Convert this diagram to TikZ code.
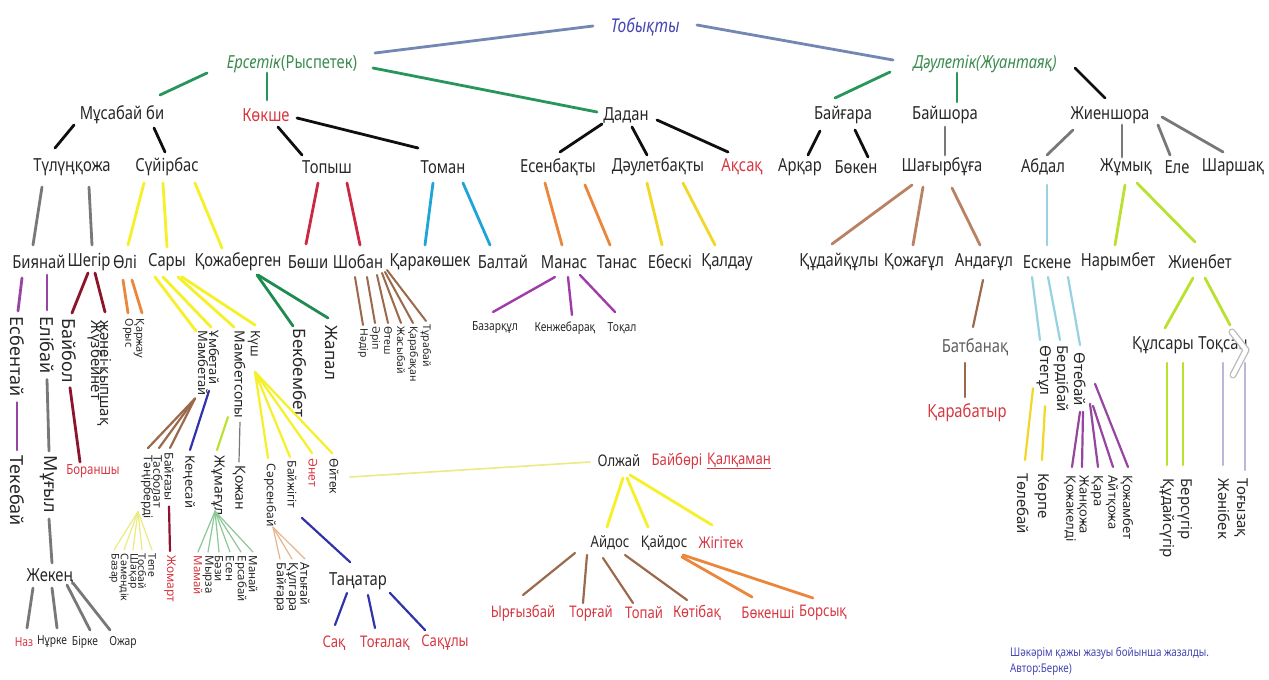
\documentclass[tikz,border=0pt]{standalone}
\usepackage{fontspec}
\setmainfont{Noto Sans}
\newfontfamily\cf[FakeStretch=0.82]{Noto Sans}
\newfontfamily\nf{Noto Sans}
\usetikzlibrary{calc}
\definecolor{txt}{RGB}{40,40,40}
\definecolor{txtred}{RGB}{215,55,65}
\definecolor{txtgrn}{RGB}{60,140,80}
\definecolor{txtblue}{RGB}{70,70,180}
\definecolor{txtgray}{RGB}{95,95,95}
\definecolor{cBG}{RGB}{115,135,180}
\definecolor{cG}{RGB}{40,150,90}
\definecolor{cK}{RGB}{15,15,15}
\definecolor{cGr}{RGB}{120,120,120}
\definecolor{cY}{RGB}{245,240,40}
\definecolor{cR}{RGB}{205,40,65}
\definecolor{cC}{RGB}{30,165,215}
\definecolor{cO}{RGB}{235,135,60}
\definecolor{cY2}{RGB}{240,215,40}
\definecolor{cT}{RGB}{185,130,100}
\definecolor{cLB}{RGB}{150,210,225}
\definecolor{cYG}{RGB}{185,225,45}
\definecolor{cP}{RGB}{150,70,160}
\definecolor{cDR}{RGB}{140,20,45}
\definecolor{cKG}{RGB}{30,140,80}
\definecolor{cBr}{RGB}{155,105,75}
\definecolor{cN}{RGB}{50,50,170}
\definecolor{cLG}{RGB}{140,200,150}
\definecolor{cLY}{RGB}{235,235,130}
\definecolor{cPe}{RGB}{230,180,140}
\definecolor{cLav}{RGB}{185,185,215}
\definecolor{cMag}{RGB}{160,60,170}
\begin{document}
\begin{tikzpicture}[x=1pt,y=-1pt,
  h/.style={font=\cf\fontsize{18}{20}\selectfont, inner sep=1pt, text=txt},
  hm/.style={font=\cf\fontsize{16}{18}\selectfont, inner sep=1pt, text=txt},
  hs/.style={font=\cf\fontsize{12.5}{14}\selectfont, inner sep=1pt, text=txt},
  v/.style={rotate=-90, anchor=west, inner sep=0.5pt, text=txt},
  vf/.style={v, font=\nf\fontsize{#1}{#1}\selectfont},
  vbold/.style={v, font=\nf\bfseries\fontsize{15}{17}\selectfont},
  tred/.style={text=txtred},
  ln/.style={line width=2.8pt, line cap=round},
  tn/.style={line width=1.2pt, line cap=round}]
\useasboundingbox (0,0) rectangle (1269,680);
\fill[white] (0,0) rectangle (1269,680);

% ---------- level 0
\node[h, text=txtblue, font=\cf\itshape\fontsize{19}{21}\selectfont] (tob) at (645,27) {Тобықты};
\node[h, text=txtgrn] (ers) at (292,64) {\textit{Ерсетік}(Рыспетек)};
\node[h, text=txtgrn] (dau) at (985,64) {\textit{Дәулетік(Жуантаяқ)}};

% ---------- level 1
\node[h] (musa) at (122,115) {Мұсабай би};
\node[h,tred] (kok) at (266,115) {Көкше};
\node[h] (dad) at (626,115) {Дадан};
\node[h] (baig) at (843,115) {Байғара};
\node[h] (baish) at (945,115) {Байшора};
\node[h] (zhiensh) at (1110,115) {Жиеншора};

% ---------- level 2
\node[h] (tul) at (72,167) {Түлүңқожа};
\node[h] (suy) at (167,167) {Сүйірбас};
\node[h] (top) at (327,167) {Топыш};
\node[h] (tom) at (443,167) {Томан};
\node[h] (esen) at (558,167) {Есенбақты};
\node[h] (daub) at (658,167) {Дәулетбақты};
\node[h,tred] (aks) at (742,167) {Ақсақ};
\node[h] (ark) at (800,167) {Арқар};
\node[h] (bok) at (856,167) {Бөкен};
\node[h] (shag) at (942,167) {Шағырбұға};
\node[h] (abd) at (1043,167) {Абдал};
\node[h] (zhum) at (1126,167) {Жұмық};
\node[h] (ele) at (1177,167) {Еле};
\node[h] (shar) at (1233,167) {Шаршақ};

% ---------- level 3
\node[h] (biy) at (39,262) {Биянай};
\node[h] (sheg) at (89,262) {Шегір};
\node[h] (oli) at (125,262) {Өлі};
\node[h] (sary) at (167,262) {Сары};
\node[h] (kozhab) at (238,262) {Қожаберген};
\node[h] (boshi) at (308,262) {Бөши};
\node[h] (shob) at (358,262) {Шобан};
\node[h] (karak) at (430,262) {Қаракөшек};
\node[h] (balt) at (503,262) {Балтай};
\node[h] (manas) at (564,262) {Манас};
\node[h] (tanas) at (617,262) {Танас};
\node[h] (ebes) at (670,262) {Ебескі};
\node[h] (kald) at (727,262) {Қалдау};
\node[h] (kudai) at (839,262) {Құдайқұлы};
\node[h] (kozhag) at (914,262) {Қожағұл};
\node[h] (andag) at (984,262) {Андағұл};
\node[h] (esk) at (1047,262) {Ескене};
\node[h] (nar) at (1118,262) {Нарымбет};
\node[h] (zhienb) at (1200,262) {Жиенбет};

% ---------- left subtree
\node[vf=18] (esb) at (17,316) {Есбентай};
\node[vf=18] (tek) at (17,455) {Текебай};
\node[vf=18] (eli) at (47,316) {Елібай};
\node[vf=18] (mug) at (49,455) {Мұғыл};
\node[h] (zhek) at (50,577) {Жекең};
\node[hs,tred] (naz) at (24,642) {Наз};
\node[hs] (nurke) at (52,642) {Нұрке};
\node[hs] (birke) at (85,642) {Бірке};
\node[hs] (ozhar) at (123,642) {Ожар};
\node[vf=18] (baib) at (69,318) {Байбол};
\node[hs,tred,font=\cf\fontsize{14}{16}\selectfont] (boransh) at (93,471) {Бораншы};
\node[vf=15] (zhane) at (105,320) {жәнеі-қыпшақ};
\node[vf=15] (zhuz) at (95,320) {Жүзбейнет};
\node[vf=11] (karzh) at (139,318) {Қаржау};
\node[vf=11] (orys) at (128,318) {Орыс};

\node[vf=13] (mamb) at (203,330) {Мамбетай};
\node[vf=13] (umb) at (214,330) {Ұмбетай};
\node[vf=14] (mambs) at (240,330) {Мамбетсопы};
\node[vf=13] (kush) at (254,330) {Күш};

\node[vf=12] (tang) at (147,455) {Тәңірберді};
\node[vf=12] (tasb) at (158,455) {Тасболат};
\node[vf=12] (baigaz) at (169,452) {Байғазы};
\node[vf=12,tred] (zhom) at (170,555) {Жомарт};
\node[vf=10.5] (tepe) at (152,553) {Тепе};
\node[vf=10.5] (tosb) at (142,553) {Тосбай};
\node[vf=10.5] (shak) at (133,553) {Шақар};
\node[vf=10.5] (samen) at (124,553) {Сәмендік};
\node[vf=10.5] (bazar) at (114,553) {Базар};

\node[vf=13] (ken) at (189,455) {Кеңесай};
\node[vf=14] (zhuma) at (218,455) {Жұмағұл};
\node[vf=14] (kozh) at (239,465) {Қожан};
\node[vf=11.5,tred] (mamai) at (198,555) {Мамай};
\node[vf=11.5] (myrza) at (208,555) {Мырза};
\node[vf=11.5] (bazi) at (219,555) {Бәзи};
\node[vf=11.5] (esenn) at (230,555) {Есен};
\node[vf=11.5] (ersab) at (241,555) {Ерсабай};
\node[vf=11.5] (manai) at (253,555) {Манай};

\node[vf=12] (sars) at (270,463) {Сәрсенбай};
\node[vf=12] (baizh) at (292,460) {Байжігіт};
\node[vf=12,tred] (anet) at (313,458) {Әнет};
\node[vf=12] (oitek) at (334,458) {Өйтек};
\node[vf=12.5] (baigara) at (280,562) {Байғара};
\node[vf=12.5] (kulgara) at (292,562) {Құлгара};
\node[vf=12.5] (atygai) at (305,562) {Атығай};

\node[h] (tanat) at (358,581) {Таңатар};
\node[hm,tred] (sak) at (334,643) {Сақ};
\node[hm,tred] (togal) at (385,643) {Тоғалақ};
\node[hm,tred] (sakuly) at (445,643) {Сақұлы};

\node[vf=17] (bekb) at (300,328) {Бекбембет};
\node[vf=17] (zhapal) at (331,325) {Жапал};

\node[vf=10.5] (nadir) at (363,328) {Нәдір};
\node[vf=10.5] (arip) at (375,326) {Әріп};
\node[vf=10.5] (otesh) at (388,326) {Өтеш};
\node[vf=10.5] (zhasyb) at (401,326) {Жасыбай};
\node[vf=10.5] (karab) at (413,326) {Қарабақан};
\node[vf=10.5] (turab) at (426,324) {Тұрабай};

\node[hs] (bazark) at (495,328) {Базарқұл};
\node[hs] (kenzhe) at (565,328) {Кенжебарақ};
\node[hs] (tokal) at (622,328) {Тоқал};

% ---------- Olzhai group
\node[hm] (olzh) at (619,461) {Олжай};
\node[hm,tred] (baibori) at (677,461) {Байбөрі};
\node[hm,tred] (kalk) at (739,461) {\underline{Қалқаман}};
\node[hm] (aidos) at (610,543) {Айдос};
\node[hm] (kaidos) at (664,543) {Қайдос};
\node[hm,tred] (zhigit) at (721,543) {Жігітек};
\node[hm,tred] (yrgyz) at (523,613) {Ырғызбай};
\node[hm,tred] (torgai) at (591,613) {Торғай};
\node[hm,tred] (topai) at (644,613) {Топай};
\node[hm,tred] (kotib) at (697,613) {Көтібақ};
\node[hm,tred] (bokensh) at (768,613) {Бөкенші};
\node[hm,tred] (borsyk) at (823,613) {Борсық};

% ---------- right subtree
\node[h, text=txtgray] (batb) at (975,347) {Батбанақ};
\node[h,tred] (karabat) at (967,413) {Қарабатыр};
\node[vbold] (oteg) at (1044,345) {Өтегұл};
\node[vbold] (berd) at (1061,345) {Бердібай};
\node[vbold] (oteb) at (1080,352) {Өтебай};
\node[vbold] (tolebai) at (1023,473) {Төлебай};
\node[vbold] (korpe) at (1042,473) {Көрпе};
\node[vf=13] (kozhak) at (1070,475) {Қожакелді};
\node[vf=13] (zhank) at (1083,475) {Жанқожа};
\node[vf=13] (kara) at (1097,475) {Қара};
\node[vf=13] (aitk) at (1112,475) {Айтқожа};
\node[vf=13] (kozham) at (1127,475) {Қожамбет};
\node[h] (kuls) at (1163,345) {Құлсары};
\node[h] (toks) at (1223,345) {Тоқсан};
\node[vf=15] (kudais) at (1167,478) {Құдайсүгір};
\node[vf=15] (bers) at (1185,478) {Берсүгір};
\node[vbold] (zhanib) at (1224,478) {Жәнібек};
\node[vbold] (togyz) at (1241,478) {Тоғызақ};

\node[anchor=west, inner sep=0pt, text=txtblue, font=\cf\fontsize{12}{14}\selectfont] (foot1) at (1010,653) {Шәкәрім қажы жазуы бойынша жазалды.};
\node[anchor=west, inner sep=0pt, text=txtblue, font=\cf\fontsize{12}{14}\selectfont] (foot2) at (1010,670) {Автор:Берке)};

% ---------- connectors level 0-1
\draw[ln,cBG] ($(tob)+(-52,-1)$) -- ($(ers)+(83,-11)$);
\draw[ln,cBG] ($(tob)+(52,-2)$) -- ($(dau)+(-92,-4)$);
\draw[ln,cG] ($(ers)+(-85,9)$) -- ($(musa)+(38,-20)$);
\draw[ln,cG] ($(ers)+(-25,9)$) -- ($(kok)+(1,-15)$);
\draw[ln,cG] ($(ers)+(81,4)$) -- ($(dad)+(-29,-3)$);
\draw[ln,cG] ($(dau)+(-95,8)$) -- ($(baig)+(-8,-17)$);
\draw[ln,cG] ($(dau)+(-28,9)$) -- ($(baish)+(12,-13)$);
\draw[ln,cK] ($(dau)+(90,4)$) -- ($(zhiensh)+(-5,-17)$);
% level 1-2
\draw[ln,cK] ($(musa)+(-48,10)$) -- ($(tul)+(-17,-19)$);
\draw[ln,cK] ($(musa)+(32,13)$) -- ($(suy)+(-2,-15)$);
\draw[ln,cK] ($(kok)+(12,12)$) -- ($(top)+(-25,-12)$);
\draw[ln,cK] ($(kok)+(31,3)$) -- ($(tom)+(-25,-19)$);
\draw[ln,cK] ($(dad)+(-24,9)$) -- ($(esen)+(2,-15)$);
\draw[ln,cK] ($(dad)+(6,12)$) -- ($(daub)+(-11,-12)$);
\draw[ln,cK] ($(dad)+(31,5)$) -- ($(aks)+(-14,-15)$);
\draw[ln,cK] ($(baig)+(-23,16)$) -- ($(ark)+(8,-12)$);
\draw[ln,cK] ($(baig)+(12,15)$) -- ($(bok)+(12,-10)$);
\draw[ln,cGr] ($(baish)+(0,12)$) -- ($(shag)+(3,-12)$);
\draw[ln,cGr] ($(zhiensh)+(-37,15)$) -- ($(abd)+(4,-12)$);
\draw[ln,cGr] ($(zhiensh)+(12,10)$) -- ($(zhum)+(-4,-10)$);
\draw[ln,cGr] ($(zhiensh)+(48,10)$) -- ($(ele)+(-7,-12)$);
\draw[ln,cGr] ($(zhiensh)+(52,2)$) -- ($(shar)+(-10,-15)$);
% level 2-3
\draw[ln,cGr] ($(tul)+(-30,20)$) -- ($(biy)+(-6,-17)$);
\draw[ln,cGr] ($(tul)+(17,20)$) -- ($(sheg)+(3,-17)$);
\draw[ln,cY] ($(suy)+(-23,16)$) -- ($(oli)+(3,-17)$);
\draw[ln,cY] ($(suy)+(-4,16)$) -- ($(sary)+(0,-15)$);
\draw[ln,cY] ($(suy)+(28,16)$) -- ($(kozhab)+(-16,-14)$);
\draw[ln,cR] ($(top)+(-9,16)$) -- ($(boshi)+(-2,-18)$);
\draw[ln,cR] ($(top)+(20,16)$) -- ($(shob)+(2,-17)$);
\draw[ln,cC] ($(tom)+(-10,16)$) -- ($(karak)+(-5,-17)$);
\draw[ln,cC] ($(tom)+(20,16)$) -- ($(balt)+(-13,-17)$);
\draw[ln,cO] ($(esen)+(-13,16)$) -- ($(manas)+(-2,-17)$);
\draw[ln,cO] ($(esen)+(27,18)$) -- ($(tanas)+(-7,-17)$);
\draw[ln,cY2] ($(daub)+(-11,16)$) -- ($(ebes)+(-8,-17)$);
\draw[ln,cY2] ($(daub)+(25,16)$) -- ($(kald)+(-12,-17)$);
\draw[ln,cT] ($(shag)+(-30,18)$) -- ($(kudai)+(-7,-18)$);
\draw[ln,cT] ($(shag)+(-19,20)$) -- ($(kozhag)+(-1,-17)$);
\draw[ln,cT] ($(shag)+(10,21)$) -- ($(andag)+(-4,-17)$);
\draw[ln,cLB] ($(abd)+(4,18)$) -- ($(esk)+(0,-17)$);
\draw[ln,cYG] ($(zhum)+(-1,18)$) -- ($(nar)+(-3,-17)$);
\draw[ln,cYG] ($(zhum)+(11,16)$) -- ($(zhienb)+(-5,-20)$);

% ---------- left subtree connectors
\draw[ln,cP] ($(biy)+(-17,16)$) -- ($(esb.west)+(1,-5)$);
\draw[ln,cP] ($(esb.east)+(0,5)$) -- ($(tek.west)+(0,-5)$);
\draw[ln,cP] ($(biy)+(8,13)$) -- ($(eli.west)+(0,-6)$);
\draw[ln,cGr] ($(eli.east)+(0,5)$) -- ($(mug.west)+(0,-4)$);
\draw[ln,cGr] ($(mug.east)+(0,5)$) -- ($(zhek)+(2,-14)$);
\draw[ln,cGr] ($(zhek)+(-17,11)$) -- ($(naz)+(3,-14)$);
\draw[ln,cGr] ($(zhek)+(2,11)$) -- ($(nurke)+(5,-14)$);
\draw[ln,cGr] ($(zhek)+(17,8)$) -- ($(birke)+(5,-12)$);
\draw[ln,cGr] ($(zhek)+(23,6)$) -- ($(ozhar)+(-13,-12)$);
\draw[ln,cDR] ($(sheg)+(-1,11)$) -- ($(baib.west)+(3,-5)$);
\draw[ln,cDR] ($(baib.east)+(1,4)$) -- ($(boransh)+(-13,-9)$);
\draw[ln,cDR] ($(sheg)+(6,11)$) -- ($(zhane.west)+(0,-8)$);
\draw[ln,cO] ($(oli)+(-2,18)$) -- ($(orys.west)+(0,-5)$);
\draw[ln,cO] ($(oli)+(7,18)$) -- ($(karzh.west)+(3,-5)$);

\draw[ln,cY] ($(sary)+(-12,15)$) -- ($(mamb.west)+(-7,1)$);
\draw[ln,cY] ($(sary)+(-4,15)$) -- ($(umb.west)+(-3,-3)$);
\draw[ln,cY] ($(sary)+(11,15)$) -- ($(mambs.west)+(-6,-3)$);
\draw[ln,cY] ($(sary)+(15,15)$) -- ($(kush.west)+(1,-5)$);

\draw[ln,cBr,line width=2.2pt] ($(mamb.east)+(-8,2)$) -- ($(tang.west)+(1,-7)$);
\draw[ln,cBr,line width=2.2pt] ($(mamb.east)+(-8,2)$) -- ($(tasb.west)+(1,-7)$);
\draw[ln,cBr,line width=2.2pt] ($(mamb.east)+(-8,2)$) -- ($(baigaz.west)+(1,-4)$);
\draw[ln,cDR,line width=2.2pt] ($(baigaz.east)+(0,5)$) -- ($(zhom.west)+(0,-4)$);
\foreach \c in {tepe,tosb,shak,samen,bazar}
  \draw[tn,cLY] ($(tang.east)+(-9,-8)$) -- ($(\c.west)+(0,-3)$);
\draw[ln,cN,line width=2.2pt] ($(umb.east)+(-5,6)$) -- ($(ken.west)+(1,-5)$);
\draw[ln,cYG,line width=2.2pt] ($(mambs.west)+(-12,87)$) -- ($(zhuma.west)+(-1,-5)$);
\draw[tn,cGr] ($(mambs.east)+(0,3)$) -- ($(kozh.west)+(0,-3)$);
\foreach \c in {mamai,myrza,bazi,esenn,ersab,manai}
  \draw[tn,cLG] ($(zhuma.east)+(-3,-5)$) -- ($(\c.west)+(0,-3)$);
\draw[ln,cY,line width=2.2pt] ($(kush.west)+(1,42)$) -- ($(sars.west)+(-2,-5)$);
\draw[ln,cY,line width=2.2pt] ($(kush.west)+(1,42)$) -- ($(baizh.west)+(-2,-3)$);
\draw[ln,cY,line width=2.2pt] ($(kush.west)+(1,42)$) -- ($(anet.west)+(-1,-5)$);
\draw[ln,cY,line width=2.2pt] ($(kush.west)+(1,42)$) -- ($(oitek.west)+(-2,-5)$);
\foreach \c in {baigara,kulgara,atygai}
  \draw[tn,cPe] ($(sars.east)+(3,0)$) -- ($(\c.west)+(0,-3)$);
\draw[ln,cN,line width=2.2pt] ($(baizh.west)+(10,58)$) -- ($(tanat)+(-8,-19)$);
\draw[ln,cN,line width=2.2pt] ($(tanat)+(-11,12)$) -- ($(sak)+(1,-18)$);
\draw[ln,cN,line width=2.2pt] ($(tanat)+(10,14)$) -- ($(togal)+(-10,-15)$);
\draw[ln,cN,line width=2.2pt] ($(tanat)+(32,12)$) -- ($(sakuly)+(-20,-13)$);
\draw[tn,cLY,line width=1.6pt] ($(oitek.west)+(16,19)$) -- ($(olzh)+(-29,1)$);

\draw[ln,cKG] ($(kozhab)+(19,13)$) -- ($(bekb.west)+(-7,-2)$);
\draw[ln,cKG] ($(kozhab)+(20,13)$) -- ($(zhapal.west)+(-3,-7)$);

\draw[ln,cBr,line width=2pt] ($(shob)+(-3,15)$) -- ($(nadir.west)+(0,-3)$);
\draw[ln,cBr,line width=2pt] ($(shob)+(9,15)$) -- ($(arip.west)+(0,-3)$);
\draw[ln,cBr,line width=2pt] ($(shob)+(19,13)$) -- ($(otesh.west)+(0,-3)$);
\draw[ln,cBr,line width=2pt] ($(shob)+(24,11)$) -- ($(zhasyb.west)+(0,-3)$);
\draw[ln,cBr,line width=2pt] ($(shob)+(27,10)$) -- ($(karab.west)+(0,-3)$);
\draw[ln,cBr,line width=2pt] ($(shob)+(29,8)$) -- ($(turab.west)+(0,-3)$);

\draw[ln,cMag,line width=2.4pt] ($(manas)+(-9,15)$) -- ($(bazark)+(-2,-16)$);
\draw[ln,cMag,line width=2.4pt] ($(manas)+(4,15)$) -- ($(kenzhe)+(7,-13)$);
\draw[ln,cMag,line width=2.4pt] ($(manas)+(16,13)$) -- ($(tokal)+(-7,-16)$);

% ---------- Olzhai group connectors
\draw[ln,cY] ($(olzh)+(4,17)$) -- ($(aidos)+(-3,-16)$);
\draw[ln,cY] ($(olzh)+(8,17)$) -- ($(kaidos)+(-16,-16)$);
\draw[ln,cY] ($(olzh)+(11,14)$) -- ($(zhigit)+(-9,-18)$);
\draw[ln,cBr,line width=2.2pt] ($(aidos)+(-35,10)$) -- ($(yrgyz)+(0,-18)$);
\draw[ln,cBr,line width=2.2pt] ($(aidos)+(-23,12)$) -- ($(torgai)+(-8,-10)$);
\draw[ln,cBr,line width=2.2pt] ($(aidos)+(-7,15)$) -- ($(topai)+(-11,-10)$);
\draw[ln,cBr,line width=2.2pt] ($(aidos)+(15,12)$) -- ($(kotib)+(-10,-13)$);
\draw[ln,cO] ($(kaidos)+(18,14)$) -- ($(bokensh)+(-16,-16)$);
\draw[ln,cO] ($(kaidos)+(19,12)$) -- ($(borsyk)+(-10,-15)$);

% ---------- right subtree connectors
\draw[ln,cBr,line width=2.2pt] ($(andag)+(-1,18)$) -- ($(batb)+(-2,-20)$);
\draw[ln,cBr,line width=2.2pt] ($(batb)+(-10,16)$) -- ($(karabat)+(-2,-16)$);
\draw[ln,cLB,line width=2.2pt] ($(esk)+(-15,15)$) -- ($(oteg.west)+(-4,-5)$);
\draw[ln,cLB,line width=2.2pt] ($(esk)+(1,15)$) -- ($(berd.west)+(-1,-5)$);
\draw[ln,cLB,line width=2.2pt] ($(esk)+(21,15)$) -- ($(oteb.west)+(0,-7)$);
\draw[ln,cY2,line width=2.2pt] ($(oteg.east)+(-11,-8)$) -- ($(tolebai.west)+(2,-13)$);
\draw[ln,cY2,line width=2.2pt] ($(oteg.east)+(1,10)$) -- ($(korpe.west)+(0,-13)$);
\draw[ln,cP,line width=2.2pt] ($(oteb.east)+(0,5)$) -- ($(kozhak.west)+(2,-8)$);
\draw[ln,cP,line width=2.2pt] ($(oteb.east)+(3,5)$) -- ($(zhank.west)+(-1,-8)$);
\draw[ln,cP,line width=2.2pt] ($(oteb.east)+(10,-3)$) -- ($(kara.west)+(1,-8)$);
\draw[ln,cP,line width=2.2pt] ($(oteb.east)+(13,-1)$) -- ($(aitk.west)+(1,-8)$);
\draw[ln,cP,line width=2.2pt] ($(oteb.east)+(15,-23)$) -- ($(kozham.west)+(1,-8)$);
\draw[ln,cYG] ($(zhienb)+(-7,16)$) -- ($(kuls)+(2,-17)$);
\draw[ln,cYG] ($(zhienb)+(5,16)$) -- ($(toks)+(7,-20)$);
\draw[ln,cYG,line width=2.4pt] ($(kuls)+(4,18)$) -- ($(kudais.west)+(0,-13)$);
\draw[ln,cYG,line width=2.4pt] ($(kuls)+(20,18)$) -- ($(bers.west)+(-2,-13)$);
\draw[ln,cLav,line width=2.2pt] ($(toks)+(0,18)$) -- ($(zhanib.west)+(-1,-13)$);
\draw[ln,cLav,line width=2.2pt] ($(toks)+(22,18)$) -- ($(togyz.west)+(4,-8)$);
% chevron artefact over Toksan
\draw[line width=7pt, gray!55, line cap=round, line join=round] (1232,332) -- (1246,350) -- (1233,375);
\draw[line width=4.4pt, white, line cap=round, line join=round] (1232,332) -- (1246,350) -- (1233,375);
\end{tikzpicture}
\end{document}
